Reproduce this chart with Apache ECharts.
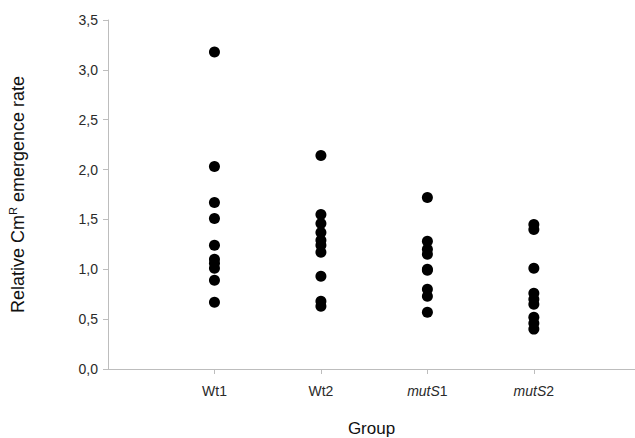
<!DOCTYPE html>
<html>
<head>
<meta charset="utf-8">
<script src="https://cdn.jsdelivr.net/npm/echarts@6/dist/echarts.min.js"></script>
<style>
  html, body { margin: 0; padding: 0; background: #fff; }
  #chart { width: 635px; height: 438px; }
</style>
</head>
<body>
<div id="chart"></div>
<script>
var groups = ['Wt1', 'Wt2', 'mutS1', 'mutS2'];
var groupPos = [1, 2, 3, 4];
var wt1 = [3.18, 2.03, 1.67, 1.51, 1.24, 1.10, 1.06, 1.01, 0.89, 0.67];
var wt2 = [2.14, 1.55, 1.46, 1.37, 1.29, 1.24, 1.17, 0.93, 0.68, 0.63];
var muts1 = [1.72, 1.28, 1.20, 1.15, 1.00, 0.99, 0.80, 0.73, 0.57];
var muts2 = [1.45, 1.40, 1.01, 0.76, 0.70, 0.65, 0.52, 0.46, 0.40];
var yTicks = [0, 0.5, 1, 1.5, 2, 2.5, 3, 3.5];

(function() {
  var values = [wt1, wt2, muts1, muts2];
  var points = [];
  values.forEach(function(arr, i) {
    arr.forEach(function(v) { points.push([groupPos[i], v]); });
  });

  var axisGrey = '#bdbdbd';
  var labelColor = '#2a2a2a';
  var font = 'Liberation Sans, Arial, sans-serif';

  var chart = echarts.init(document.getElementById('chart'), null, { renderer: 'svg' });
  chart.setOption({
    animation: false,
    grid: { left: 108, right: 0, top: 20, bottom: 69, containLabel: false, outerBoundsMode: 'none' },
    xAxis: {
      type: 'value',
      min: 0,
      max: 4.95,
      splitLine: { show: false },
      axisLine: { lineStyle: { color: axisGrey } },
      axisTick: { show: true, length: 5, lineStyle: { color: axisGrey }, customValues: groupPos },
      axisLabel: {
        customValues: groupPos,
        margin: 15,
        color: labelColor,
        fontFamily: font,
        fontSize: 14,
        formatter: function(v) {
          var name = groups[groupPos.indexOf(v)] || '';
          if (name.indexOf('mutS') === 0) return '{i|mutS}' + name.slice(4);
          return name;
        },
        rich: { i: { fontStyle: 'italic', color: labelColor, fontFamily: font, fontSize: 14 } }
      },
      name: 'Group',
      nameLocation: 'middle',
      nameGap: 51,
      nameTextStyle: { color: '#111', fontFamily: font, fontSize: 17 }
    },
    yAxis: {
      type: 'value',
      min: yTicks[0],
      max: yTicks[yTicks.length - 1],
      interval: 0.5,
      splitLine: { show: false },
      axisLine: { show: true, lineStyle: { color: axisGrey } },
      axisTick: { show: true, length: 5, lineStyle: { color: axisGrey } },
      axisLabel: {
        margin: 10,
        color: labelColor,
        fontFamily: font,
        fontSize: 14,
        formatter: function(v) { return v.toFixed(1).replace('.', ','); }
      },
      name: '{n|Relative Cm}{s|R}{n| emergence rate}',
      nameLocation: 'middle',
      nameGap: 80,
      nameRotate: 90,
      nameTextStyle: {
        rich: {
          n: { color: '#111', fontFamily: font, fontSize: 18 },
          s: { color: '#111', fontFamily: font, fontSize: 11, padding: [0, 0, 10, 0] }
        }
      }
    },
    series: [{
      type: 'scatter',
      symbolSize: 11,
      itemStyle: { color: '#000', opacity: 1 },
      data: points
    }]
  });
})();
</script>
</body>
</html>
